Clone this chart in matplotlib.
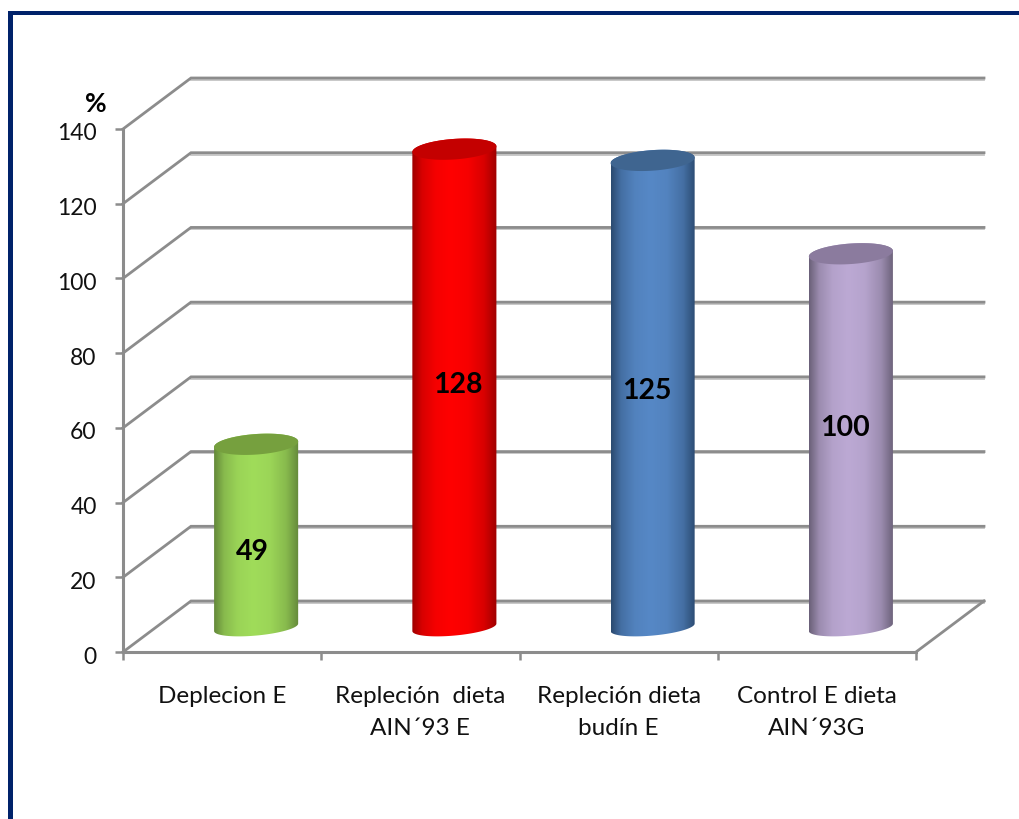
import numpy as np
import matplotlib
matplotlib.use("Agg")
import matplotlib.pyplot as plt
from matplotlib.colors import LinearSegmentedColormap, to_rgb
from matplotlib.patches import PathPatch, Rectangle
from matplotlib.path import Path
from matplotlib.transforms import ScaledTranslation

plt.rcParams["font.family"] = ["Lato", "DejaVu Sans"]

# Data
categories = ["Deplecion E", "Repleción  dieta\nAIN´93 E", "Repleción dieta\nbudín E", "Control E dieta\nAIN´93G"]
values = [49, 128, 125, 100]
y_ticks = [0, 20, 40, 60, 80, 100, 120, 140]

# Colours of each cylinder: edge, body, top
edge_colors = ["#64883A", "#9E0000", "#2B4A70", "#6A6078"]
body_colors = ["#A0DC5A", "#FF0000", "#5688C6", "#BCA9D4"]
top_colors = ["#76A03E", "#C40000", "#3F6590", "#8B7B9E"]

# Layout
W, H = 1019, 820
left_px, right_px, top_px, bottom_px = 123, 916, 130, 653
depth_x, depth_y = 0.343, 13.65  # floor depth in data units
bar_half = 0.212
bar_base = 6.6
top_b, top_tilt = 2.75, 0.75
bot_b, bot_tilt = 2.2, 1.0
label_x = [0.653, 1.69, 2.64, 3.64]
label_y = [27.0, 71.7, 70.1, 60.2]
grid_col = "#8C8C8C"


def mix(a, b, f):
    a, b = np.array(to_rgb(a)), np.array(to_rgb(b))
    return tuple(a + (b - a) * f)


fig = plt.figure(figsize=(W / 100, H / 100), dpi=100)
fig.patches.append(Rectangle((8 / W, 0), 5 / W, 1 - 12 / H, transform=fig.transFigure, color="#00226A", lw=0))
fig.patches.append(Rectangle((8 / W, 1 - 15.5 / H), 1 - 8 / W, 3.5 / H, transform=fig.transFigure, color="#00226A", lw=0))

ax = fig.add_axes([left_px / W, 1 - bottom_px / H, (right_px - left_px) / W, (bottom_px - top_px) / H])
ax.patch.set_visible(False)

# Grid on the side and back walls, with a pale shadow under each back line
for yt in y_ticks:
    ax.plot([depth_x, 4 + depth_x], [yt + depth_y - 0.5] * 2, color="#C4C4C4", lw=1.3, zorder=1, clip_on=False)
    ax.plot([0, depth_x, 4 + depth_x], [yt, yt + depth_y, yt + depth_y], color=grid_col, lw=2.0, zorder=1.5,
            clip_on=False, solid_joinstyle="miter")
ax.plot([4, 4 + depth_x], [0, depth_y], color=grid_col, lw=2.0, zorder=1.5, clip_on=False)

# Cylinders
t = np.linspace(0, 2 * np.pi, 121)
for i, v in enumerate(values):
    cx = i + 0.5 + depth_x / 2
    y_bot, y_top = bar_base, bar_base + v
    ex = cx + bar_half * np.cos(t)
    lower = t[t >= np.pi]
    upper = np.linspace(0, np.pi, 61)
    # outline: front of the bottom ellipse, then the back of the top ellipse
    bx = cx + bar_half * np.cos(lower)
    by = y_bot + bot_b * np.sin(lower) + bot_tilt * np.cos(lower)
    tx = cx + bar_half * np.cos(upper)
    ty = y_top + top_b * np.sin(upper) + top_tilt * np.cos(upper)
    body = Path(np.column_stack([np.r_[bx, tx], np.r_[by, ty]]))
    edge, mid = edge_colors[i], body_colors[i]
    cmap = LinearSegmentedColormap.from_list(
        "cyl", [(0, edge), (0.12, mix(edge, mid, 0.6)), (0.28, mix(edge, mid, 0.9)), (0.46, mid),
                (0.66, mix(edge, mid, 0.92)), (0.85, mix(edge, mid, 0.6)), (1, edge)])
    im = ax.imshow(np.linspace(0, 1, 256).reshape(1, -1), cmap=cmap, aspect="auto", zorder=3,
                   extent=[cx - bar_half, cx + bar_half, y_bot - 5, y_top + 5], interpolation="bilinear")
    im.set_clip_path(PathPatch(body, transform=ax.transData))
    ey = y_top + top_b * np.sin(t) + top_tilt * np.cos(t)
    ax.fill(ex, ey, color=top_colors[i], lw=0, zorder=4)
    ax.text(label_x[i], label_y[i], str(v), ha="center", va="center", fontsize=20.5, fontweight="bold",
            color="black", zorder=5)

ax.set_xlim(0, 4)
ax.set_ylim(0, 140)

# Axes, ticks and labels
for side in ["top", "right"]:
    ax.spines[side].set_visible(False)
for side in ["left", "bottom"]:
    ax.spines[side].set_color(grid_col)
    ax.spines[side].set_linewidth(2.2)
    ax.spines[side].set_zorder(2)
ax.set_yticks(y_ticks)
ax.set_xticks(range(5))
ax.set_xticklabels([])
ax.set_xticks([i + 0.5 for i in range(len(categories))], minor=True)
ax.set_xticklabels(categories, minor=True, fontsize=17.5, linespacing=1.62, color="#111111")
ax.tick_params(axis="x", which="major", length=6, width=1.8, color=grid_col)
ax.tick_params(axis="x", which="minor", length=0, pad=24)
ax.tick_params(axis="y", length=6, width=1.8, color=grid_col, labelsize=16.5, pad=13, labelcolor="#111111")
for lab in ax.get_yticklabels():
    lab.set_transform(lab.get_transform() + ScaledTranslation(0, -2 / 100, fig.dpi_scale_trans))
ax.text(-16 / 793, 1.05, "%", transform=ax.transAxes, ha="right", va="center", fontsize=19, fontweight="bold")

fig.savefig("out.png", dpi=100)
